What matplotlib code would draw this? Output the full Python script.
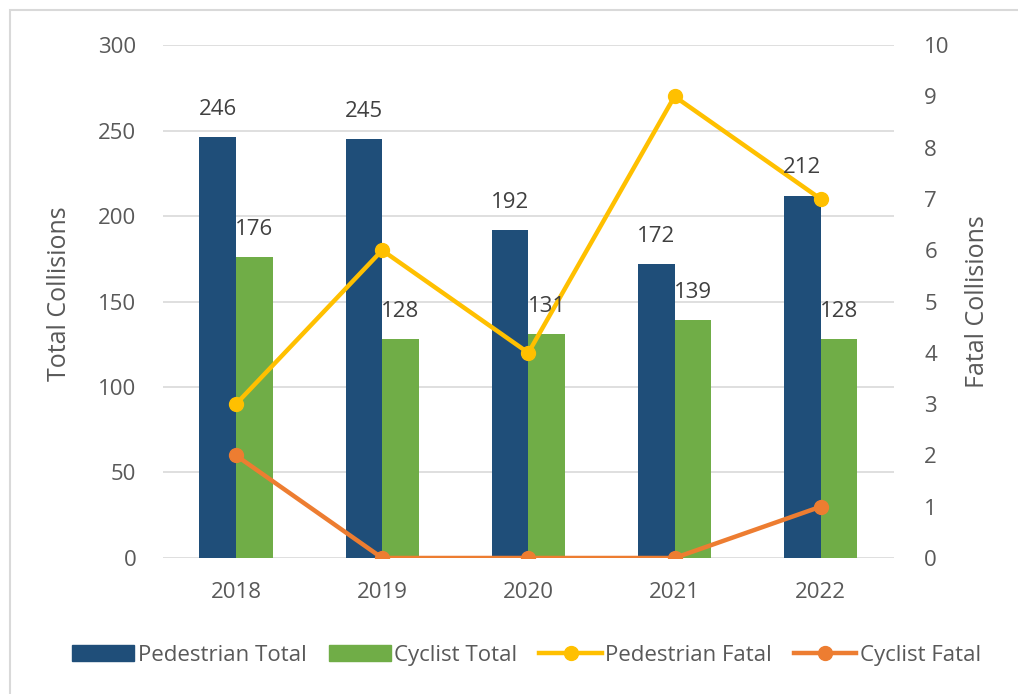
import matplotlib.pyplot as plt
import numpy as np
from matplotlib.patches import Rectangle
from matplotlib.lines import Line2D

years = ['2018', '2019', '2020', '2021', '2022']
ped_total = [246, 245, 192, 172, 212]
cyc_total = [176, 128, 131, 139, 128]
ped_fatal = [3, 6, 4, 9, 7]
cyc_fatal = [2, 0, 0, 0, 1]

navy = '#1F4E79'
green = '#70AD47'
yellow = '#FFC000'
orange = '#ED7D31'
txt = '#595959'

plt.rcParams['font.family'] = ['Open Sans', 'DejaVu Sans']

fig = plt.figure(figsize=(10.18, 6.94), dpi=100)
ax = fig.add_axes([0.160, 0.196, 0.718, 0.739])
ax2 = ax.twinx()

x = np.arange(len(years))
w = 0.25
ax.bar(x - w/2, ped_total, w, color=navy, zorder=2)
ax.bar(x + w/2, cyc_total, w, color=green, zorder=2)

ax.set_ylim(0, 300)
ax.set_yticks(range(0, 301, 50))
ax.set_xlim(-0.5, 4.5)
ax.set_xticks(x)
ax.set_xticklabels(years)
ax.yaxis.grid(True, color='#D9D9D9', linewidth=1.2, zorder=0)
ax.set_axisbelow(True)
for s in ax.spines.values():
    s.set_visible(False)
for s in ax2.spines.values():
    s.set_visible(False)
ax.tick_params(length=0, labelsize=16, colors=txt, pad=19)
ax.tick_params(axis='x', pad=17)
ax.set_ylabel('Total Collisions', fontsize=18, color=txt)
ax.yaxis.set_label_coords(-0.124, 0.515)

ax2.plot(x, ped_fatal, color=yellow, linewidth=3.2, marker='o', markersize=10, zorder=3)
ax2.plot(x, cyc_fatal, color=orange, linewidth=3.2, marker='o', markersize=10, zorder=3)
ax2.set_ylim(0, 10)
ax2.set_yticks(range(0, 11))
ax2.tick_params(length=0, labelsize=16, colors=txt, pad=22)
ax2.set_ylabel('Fatal Collisions', fontsize=18, color=txt)
ax2.yaxis.set_label_coords(1.097, 0.5)

# bar value labels drawn on the top axes so they sit over the lines
for i in range(len(x)):
    ax2.text(x[i] - w/2, ped_total[i] + 10, str(ped_total[i]), ha='center', va='bottom',
             fontsize=16, color='#404040', transform=ax.transData, zorder=5)
    ax2.text(x[i] + w/2, cyc_total[i] + 10, str(cyc_total[i]), ha='center', va='bottom',
             fontsize=16, color='#404040', transform=ax.transData, zorder=5)

handles = [
    Rectangle((0, 0), 1, 1, color=navy),
    Rectangle((0, 0), 1, 1, color=green),
    Line2D([0], [0], color=yellow, linewidth=3.2, marker='o', markersize=10),
    Line2D([0], [0], color=orange, linewidth=3.2, marker='o', markersize=10),
]
labels = ['Pedestrian Total', 'Cyclist Total', 'Pedestrian Fatal', 'Cyclist Fatal']
fig.legend(handles, labels, loc='center', bbox_to_anchor=(0.517, 0.056), ncol=4,
           frameon=False, fontsize=16, handlelength=2.8, handletextpad=0.15,
           columnspacing=1.0, labelcolor=txt)

fig.add_artist(Rectangle((10/1018, -0.01), 1.02, 1 - 10/694 + 0.01, transform=fig.transFigure,
                         fill=False, edgecolor='#D9D9D9', linewidth=1.5))

fig.savefig('out.png', dpi=100)
